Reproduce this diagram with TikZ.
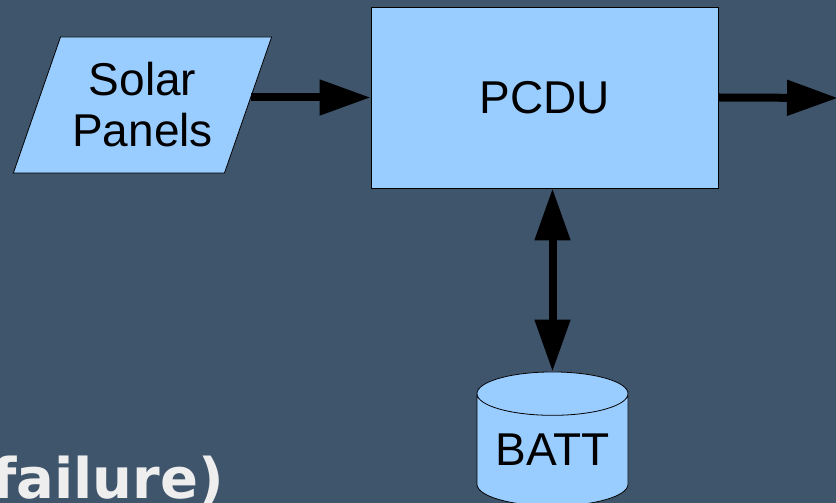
\documentclass[tikz,border=0pt]{standalone}
\usepackage{fontspec}
\setmainfont{Liberation Sans}
\newfontfamily\titlefont{DejaVu Sans}
\usepackage{xcolor}
\usetikzlibrary{shapes.geometric,arrows.meta}
\definecolor{slide}{HTML}{3F556B}
\definecolor{boxblue}{HTML}{99CCFF}
\definecolor{lidblue}{HTML}{C4E2FF}
\definecolor{titlegray}{HTML}{EEEEEE}

\begin{document}
\begin{tikzpicture}[x=1pt, y=1pt,
    box/.style={draw=black, line width=0.8pt, fill=boxblue, font=\fontsize{46}{51}\selectfont, align=center, inner sep=0pt},
    flow/.style={line width=8pt, -{Triangle[length=51pt, width=34pt]}},
    twoway/.style={line width=8pt, {Triangle[length=52pt, width=34pt]}-{Triangle[length=52pt, width=34pt]}}]
  \fill[slide] (0,0) rectangle (836,503);
  \useasboundingbox (0,0) rectangle (836,503);
  % boxes
  \node[box, trapezium, trapezium left angle=64.5, trapezium right angle=115.5, trapezium stretches=true, minimum width=259pt, minimum height=136pt] (solar) at (142.5,398) {Solar\\Panels};
  \node[box, rectangle, minimum width=347pt, minimum height=181pt] (pcdu) at (544.5,405.5) {PCDU};
  \node[box, cylinder, shape border rotate=90, aspect=0.38, minimum width=151pt, minimum height=134pt, cylinder uses custom fill, cylinder body fill=boxblue, cylinder end fill=lidblue] (batt) at (552.5,53) {BATT};
  \coordinate (out) at (838,405);
  % arrows
  \draw[flow, shorten <=2.5pt] (solar.east |- pcdu.west) -- (pcdu.west);
  \draw[flow] (pcdu.east) -- (out);
  \draw[twoway] (batt.top |- pcdu.south) -- (batt.top);
  \node[font=\titlefont\bfseries\fontsize{56}{60}\selectfont, text=titlegray, anchor=base east, inner sep=0pt] (fail) at (224,4) {failure)};
\end{tikzpicture}
\end{document}
